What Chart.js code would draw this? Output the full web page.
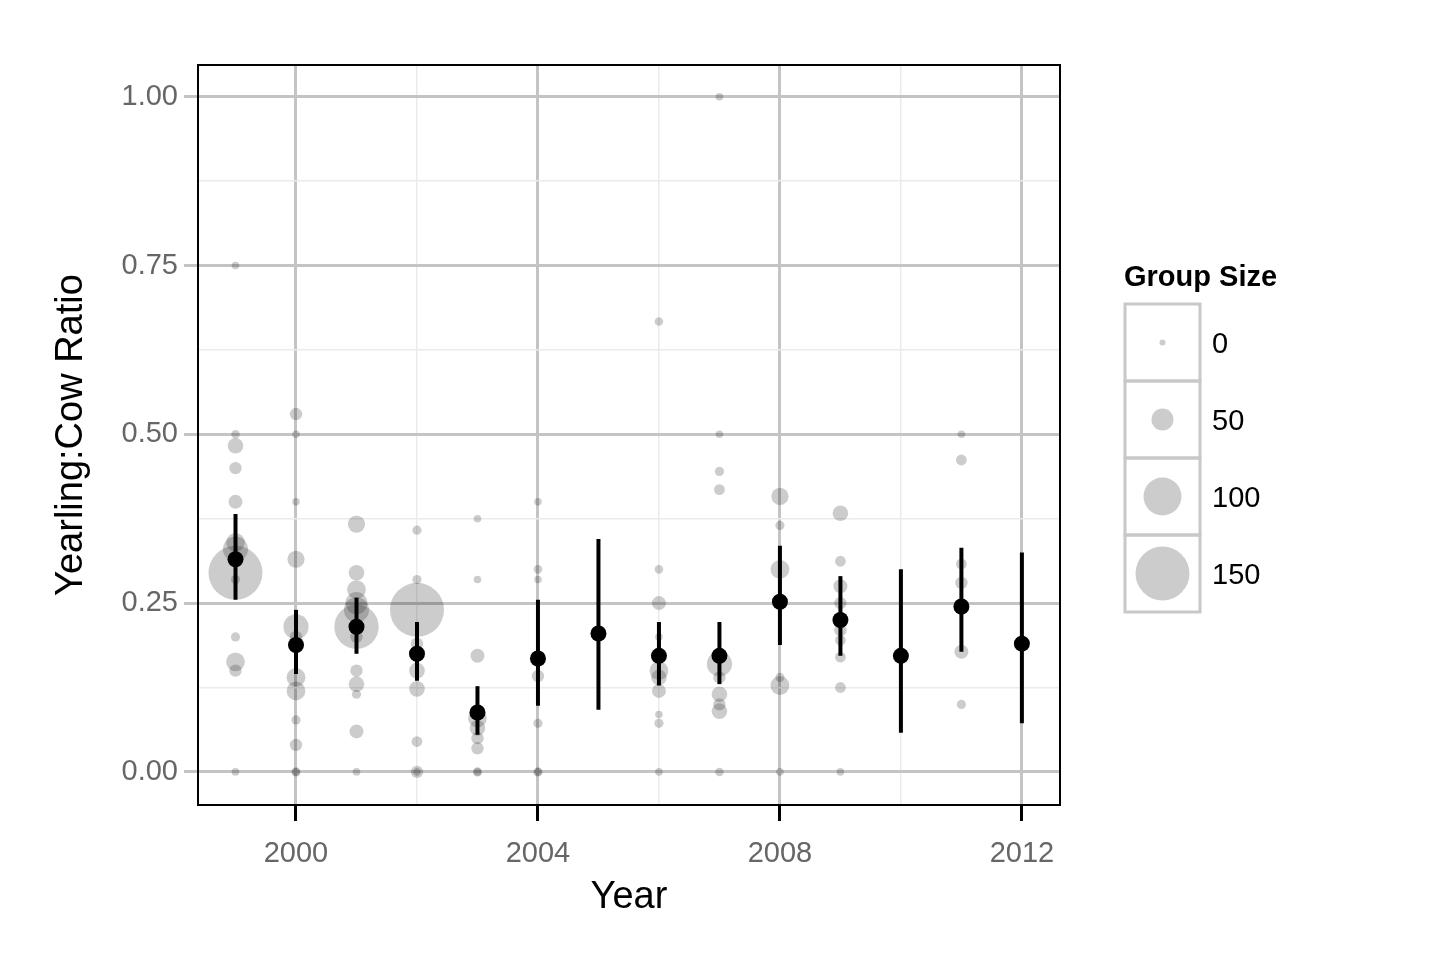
<!DOCTYPE html>
<html><head><meta charset="utf-8">
<script src="https://cdn.jsdelivr.net/npm/chart.js@4/dist/chart.umd.min.js"></script>
<style>html,body{margin:0;background:#fff}#w{width:1440px;height:960px}</style>
</head><body><div id="w"><canvas id="c"></canvas></div>
<script>
const years = [1999,2000,2001,2002,2003,2004,2005,2006,2007,2008,2009,2010,2011,2012];
const means = [0.315,0.188,0.215,0.175,0.088,0.168,0.205,0.172,0.172,0.252,0.225,0.172,0.245,0.19];
const lowers = [0.255,0.145,0.175,0.135,0.055,0.098,0.092,0.128,0.13,0.188,0.172,0.058,0.178,0.072];
const uppers = [0.382,0.24,0.258,0.222,0.127,0.255,0.345,0.222,0.222,0.335,0.29,0.3,0.332,0.325];
// group observations: year, ratio, group size
const obsYear = [
1999,1999,1999,1999,1999,1999,1999,1999,1999,1999,1999,1999,1999,
2000,2000,2000,2000,2000,2000,2000,2000,2000,2000,2000,2000,
2001,2001,2001,2001,2001,2001,2001,2001,2001,2001,2001,2001,
2002,2002,2002,2002,2002,2002,2002,2002,2002,
2003,2003,2003,2003,2003,2003,2003,2003,2003,
2004,2004,2004,2004,2004,2004,2004,
2006,2006,2006,2006,2006,2006,2006,2006,2006,2006,
2007,2007,2007,2007,2007,2007,2007,2007,2007,2007,
2008,2008,2008,2008,2008,2008,
2009,2009,2009,2009,2009,2009,2009,2009,2009,
2011,2011,2011,2011,2011,2011,2011];
const obsRatio = [
0.75,0.5,0.483,0.45,0.4,0.34,0.33,0.295,0.285,0.2,0.163,0.15,0,
0.53,0.5,0.4,0.315,0.215,0.2,0.14,0.12,0.077,0.04,0,0,
0.367,0.295,0.27,0.25,0.24,0.215,0.2,0.15,0.13,0.115,0.06,0,
0.358,0.285,0.24,0.19,0.15,0.123,0.045,0,0,
0.375,0.285,0.172,0.08,0.065,0.05,0.035,0,0,
0.4,0.3,0.285,0.142,0.072,0,0,
0.667,0.3,0.25,0.2,0.15,0.14,0.12,0.085,0.072,0,
1,0.5,0.445,0.418,0.16,0.14,0.115,0.1,0.09,0,
0.408,0.365,0.3,0.14,0.128,0,
0.383,0.312,0.275,0.25,0.21,0.195,0.17,0.125,0,
0.5,0.462,0.308,0.28,0.24,0.178,0.1];
const obsSize = [
5,8,30,20,25,40,60,150,10,10,40,20,5,
20,5,5,35,60,20,40,40,10,20,10,5,
35,30,40,50,60,120,20,20,30,10,25,5,
10,10,150,20,30,30,15,20,5,
5,5,25,40,30,20,20,10,5,
5,8,5,20,10,10,5,
8,8,25,5,40,30,25,5,10,5,
5,5,10,15,60,20,30,20,30,8,
35,10,40,10,40,5,
30,15,25,20,20,15,15,15,5,
5,15,15,20,15,25,10];
const legendSizes = [0,50,100,150];
const rad = n => 3 + 0.16*n;
const isMajorY = v => Math.abs(v*4-Math.round(v*4))<1e-6;

const overlay = {
  id:'overlay',
  afterDatasetsDraw(ch){
    const c=ch.ctx,x=ch.scales.x,y=ch.scales.y;
    c.save();
    c.strokeStyle='#000';c.lineWidth=4;
    years.forEach((yr,i)=>{const px=x.getPixelForValue(yr);
      c.beginPath();c.moveTo(px,y.getPixelForValue(lowers[i]));c.lineTo(px,y.getPixelForValue(uppers[i]));c.stroke();});
    c.restore();
  },
  afterDraw(ch){
    const c=ch.ctx,a=ch.chartArea;
    c.save();
    c.strokeStyle='#000';c.lineWidth=2;c.strokeRect(a.left,a.top,a.right-a.left,a.bottom-a.top);
    c.fillStyle='#000';c.font='bold 29px "Liberation Sans", Arial';c.textBaseline='alphabetic';
    c.fillText('Group Size',1124,286);
    const lx=1125,ly=304,w=75,h=77;
    legendSizes.forEach((s,i)=>{
      const top=ly+i*h;
      c.strokeStyle='#c8c8c8';c.lineWidth=3;c.strokeRect(lx,top,w,h);
      c.fillStyle='rgba(0,0,0,0.2)';c.beginPath();c.arc(lx+w/2,top+h/2,rad(s),0,Math.PI*2);c.fill();
      c.fillStyle='#000';c.font='29px "Liberation Sans", Arial';c.textBaseline='middle';
      c.fillText(String(s),lx+w+12,top+h/2+2);
    });
    c.restore();
  }
};

new Chart(document.getElementById('c'),{
  type:'scatter',
  data:{datasets:[
    {data:obsYear.map((v,i)=>({x:v,y:obsRatio[i]})),backgroundColor:'rgba(0,0,0,0.2)',borderWidth:0,
     pointRadius:obsSize.map(rad),pointHoverRadius:obsSize.map(rad)},
    {data:years.map((v,i)=>({x:v,y:means[i]})),backgroundColor:'#000',borderWidth:0,pointRadius:8}
  ]},
  options:{
    responsive:true,maintainAspectRatio:false,animation:false,
    layout:{padding:{left:45,top:65,right:380,bottom:40}},
    plugins:{legend:{display:false},tooltip:{enabled:false}},
    scales:{
      x:{type:'linear',min:1998.38,max:2012.63,
        afterFit:s=>{s.height=115;},
        border:{display:false},
        grid:{color:t=>t.tick&&t.tick.value%4===0?'#c4c4c4':'#ebebeb',lineWidth:t=>t.tick&&t.tick.value%4===0?3:1.5,
          tickColor:t=>t.tick&&t.tick.value%4===0?'#000':'rgba(0,0,0,0)',tickLength:16,tickWidth:3},
        ticks:{stepSize:2,includeBounds:false,color:'#666',font:{size:29,family:'"Liberation Sans", Arial'},padding:16,maxRotation:0,
          callback:v=>v%4===0?String(v):''},
        title:{display:true,text:'Year',color:'#000',font:{size:38,family:'"Liberation Sans", Arial'},padding:{top:0,bottom:0}}
      },
      y:{min:-0.049,max:1.047,
        afterFit:s=>{s.width=153;},
        border:{display:false},
        grid:{color:t=>t.tick&&isMajorY(t.tick.value)?'#c4c4c4':'#ebebeb',
          lineWidth:t=>t.tick&&isMajorY(t.tick.value)?3:1.5,
          tickColor:t=>t.tick&&isMajorY(t.tick.value)?'#c4c4c4':'rgba(0,0,0,0)',tickLength:14,tickWidth:3},
        ticks:{stepSize:0.125,includeBounds:false,color:'#666',font:{size:29,family:'"Liberation Sans", Arial'},padding:6,
          callback:v=>isMajorY(v)?v.toFixed(2):''},
        title:{display:true,text:'Yearling:Cow Ratio',color:'#000',font:{size:38,family:'"Liberation Sans", Arial'},padding:{bottom:0}}
      }
    }
  },
  plugins:[overlay]
});
</script></body></html>
